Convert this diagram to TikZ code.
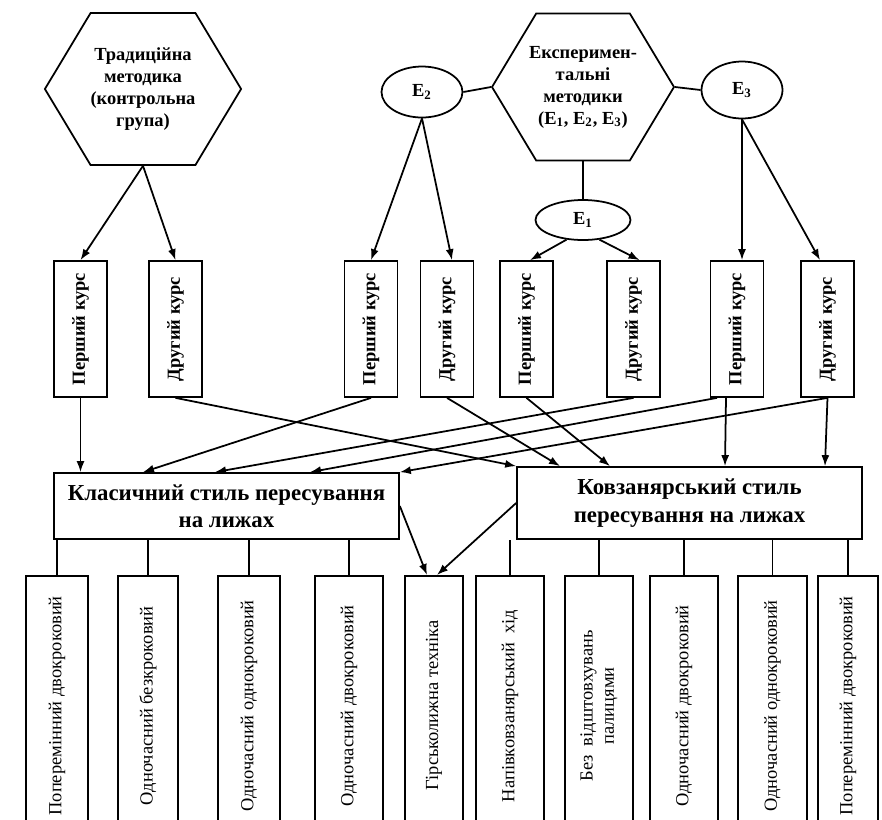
\documentclass[tikz,border=0pt]{standalone}
\usepackage{fontspec}
\setmainfont{Liberation Serif}
\usetikzlibrary{arrows.meta,calc,shapes.geometric,shapes.symbols}

\begin{document}
\begin{tikzpicture}[
    x=0.02cm, y=-0.02cm,
    >={Latex[length=2.2mm,width=1.6mm]},
    line width=1pt,
    hexa/.style={
        draw,
        signal,
        signal to=west and east,
        signal pointer angle=118,
        minimum width=3.8cm,
        minimum height=3.04cm,
        inner sep=0pt,
        align=center,
        font=\fontsize{10.5}{12.5}\selectfont\bfseries
    },
    evar/.style={
        draw,
        ellipse,
        inner sep=0pt,
        font=\fontsize{10.5}{12}\selectfont\bfseries
    },
    course/.style={
        draw,
        minimum width=1.06cm,
        minimum height=2.72cm,
        inner sep=0pt,
        font=\fontsize{10.5}{12}\selectfont\bfseries
    },
    stylebox/.style={
        draw,
        minimum width=6.9cm,
        align=center,
        font=\fontsize{13}{15.5}\selectfont\bfseries
    },
    tech/.style={
        draw,
        anchor=north,
        minimum height=5.2cm,
        inner sep=0pt,
        font=\fontsize{10.5}{12}\selectfont
    },
    link/.style={->}
]
\useasboundingbox (0,0) rectangle (882,819);
\clip (0,0) rectangle (882,819);

%------------------------------------------------
% Methods
%------------------------------------------------
\node[hexa] (trad) at (143,89) {Традиційна\\методика\\(контрольна\\група)};
\node[hexa, minimum width=3.64cm, minimum height=2.94cm, inner xsep=-0.2cm] (exp) at (583,87)
    {Експеримен-\\тальні\\методики\\(E\textsubscript{1}, E\textsubscript{2}, E\textsubscript{3})};

\node[evar, minimum width=1.62cm, minimum height=1.02cm] (e2) at (422,92) {E\textsubscript{2}};
\node[evar, minimum width=1.62cm, minimum height=1.14cm] (e3) at (742,90) {E\textsubscript{3}};
\node[evar, minimum width=1.9cm, minimum height=0.8cm]  (e1) at (583,220) {E\textsubscript{1}};

%------------------------------------------------
% Courses
%------------------------------------------------
\node[course] (k1) at (80.5,329)  {\rotatebox{90}{Перший курс}};
\node[course] (k2) at (175.5,329) {\rotatebox{90}{Другий курс}};
\node[course] (k3) at (371,329)   {\rotatebox{90}{Перший курс}};
\node[course] (k4) at (447,329)   {\rotatebox{90}{Другий курс}};
\node[course] (k5) at (526.5,329) {\rotatebox{90}{Перший курс}};
\node[course] (k6) at (633.5,329) {\rotatebox{90}{Другий курс}};
\node[course] (k7) at (737,329)   {\rotatebox{90}{Перший курс}};
\node[course] (k8) at (827.5,329) {\rotatebox{90}{Другий курс}};

%------------------------------------------------
% Styles
%------------------------------------------------
\node[stylebox, minimum height=1.32cm] (classic) at (226.5,506)
    {Класичний стиль пересування\\на лижах};
\node[stylebox, minimum height=1.44cm] (skate) at (689.5,503)
    {Ковзанярський стиль\\пересування на лижах};

%------------------------------------------------
% Techniques
%------------------------------------------------
\node[tech, minimum width=1.24cm] (t1)  at (57,575)  {\rotatebox{90}{Поперемінний двокроковий}};
\node[tech, minimum width=1.2cm]  (t2)  at (148,575) {\rotatebox{90}{Одночасний безкроковий}};
\node[tech, minimum width=1.24cm] (t3)  at (249,575) {\rotatebox{90}{Одночасний однокроковий}};
\node[tech, minimum width=1.36cm] (t4)  at (349,575) {\rotatebox{90}{Одночасний двокроковий}};
\node[tech, minimum width=1.16cm] (t5)  at (434,575) {\rotatebox{90}{Гірськолижна техніка}};
\node[tech, minimum width=1.36cm] (t6)  at (510,575) {\rotatebox{90}{Напівковзанярський\ \ хід}};
\node[tech, minimum width=1.36cm] (t7)  at (599,575)
    {\rotatebox{90}{\begin{tabular}{@{}c@{}}Без\ \ відштовхувань\\палицями\end{tabular}}};
\node[tech, minimum width=1.36cm] (t8)  at (684,575) {\rotatebox{90}{Одночасний двокроковий}};
\node[tech, minimum width=1.38cm] (t9)  at (772.5,575) {\rotatebox{90}{Одночасний однокроковий}};
\node[tech, minimum width=1.2cm]  (t10) at (848,575) {\rotatebox{90}{Поперемінний двокроковий}};

%------------------------------------------------
% Methods to courses
%------------------------------------------------
\draw[link] (trad.south) -- (k1.north);
\draw[link] (trad.south) -- (k2.north);

\draw (exp.west) -- (e2.east);
\draw (exp.east) -- (e3.west);
\draw (exp.south) -- (e1.north);

\draw[link] (e2.south) -- (k3.north);
\draw[link] (e2.south) -- ([xshift=0.1cm]k4.north);
\draw[link] (e1.230) -- ([xshift=0.07cm]k5.north);
\draw[link] (e1.-50) -- ([xshift=0.12cm]k6.north);
\draw[link] (e3.south) -- (e3.south |- k7.north);
\draw[link] (e3.south) -- ([xshift=-0.15cm]k8.north);

%------------------------------------------------
% Courses to styles
%------------------------------------------------
\draw[link] (k1.south) -- (k1.south |- classic.north);
\draw[link] (k2.south) -- (skate.north west);
\draw[link] (k3.south) -- ([xshift=-1.67cm]classic.north);
\draw[link] (k4.south) -- ([xshift=-2.59cm]skate.north);
\draw[link] (k5.south) -- ([xshift=-1.59cm]skate.north);
\draw[link] (k6.south) -- ([xshift=-0.23cm]classic.north);
\draw[link] ([xshift=-0.4cm]k7.south) -- ([xshift=1.67cm]classic.north);
\draw[link] ([xshift=-0.22cm]k7.south) -- ([xshift=0.71cm]skate.north);
\draw[link] (k8.south) -- (classic.north east);
\draw[link] (k8.south) -- ([xshift=2.71cm]skate.north);

%------------------------------------------------
% Styles to techniques
%------------------------------------------------
\draw[link] (classic.east) -- ([xshift=-0.14cm]t5.north);
\draw[link] (skate.west) -- ([xshift=0.06cm]t5.north);

\foreach \t in {t1,t2,t3,t4}
    \draw (\t.north) -- (\t.north |- classic.south);
\foreach \t in {t6,t7,t8,t9,t10}
    \draw (\t.north) -- (\t.north |- skate.south);

\end{tikzpicture}
\end{document}
